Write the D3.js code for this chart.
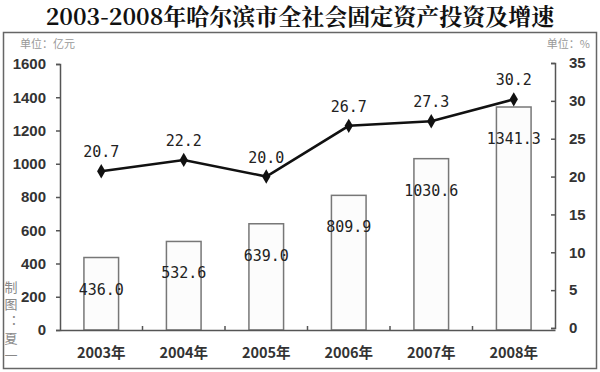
<!DOCTYPE html>
<html><head><meta charset="utf-8">
<script src="https://cdn.jsdelivr.net/npm/d3@7"></script>
<style>body{margin:0;background:#fff}svg{display:block}</style>
</head><body>
<svg id="c" width="600" height="372"></svg>
<script>
const years = ["2003年","2004年","2005年","2006年","2007年","2008年"];
const investment = [436.0, 532.6, 639.0, 809.9, 1030.6, 1341.3];
const growth = [20.7, 22.2, 20.0, 26.7, 27.3, 30.2];
const leftTicks = [0,200,400,600,800,1000,1200,1400,1600];
const rightTicks = [0,5,10,15,20,25,30,35];
const title = "2003-2008年哈尔滨市全社会固定资产投资及增速";

const svg = d3.select("#c");
const L = 60, R = 555, T = 64, B = 330;
const x = d3.scaleBand().domain(years).range([L, R]).paddingInner(0.58).paddingOuter(0.29);
const xs = d3.scaleBand().domain(years).range([L, R]);
const yL = d3.scaleLinear().domain([0,1600]).range([B, T]);
const yR = d3.scaleLinear().domain([0,35]).range([B-2, T-1]);

// frame
svg.append("rect").attr("x",3.5).attr("y",32.5).attr("width",593).attr("height",336)
  .attr("fill","none").attr("stroke","#666").attr("stroke-width",1.5);

svg.append("text").attr("x",300).attr("y",25).attr("text-anchor","middle")
  .attr("font-family","'Noto Serif CJK SC','Noto Sans CJK SC',serif").attr("font-weight","bold")
  .attr("font-size",23).attr("fill","#111").text(title);

svg.append("text").attr("x",20).attr("y",48).attr("font-family","'Noto Sans CJK SC',sans-serif")
  .attr("font-size",11).attr("fill","#999").text("单位：亿元");
svg.append("text").attr("x",590).attr("y",48).attr("text-anchor","end").attr("font-family","'Noto Sans CJK SC',sans-serif")
  .attr("font-size",11).attr("fill","#999").text("单位：%");

// vertical credit
svg.append("text").attr("x",11).attr("y",281)
  .attr("style","writing-mode: vertical-rl; letter-spacing: 4px")
  .attr("font-family","'Noto Sans CJK SC',sans-serif").attr("font-size",13).attr("fill","#888").text("制图：夏一");

// bars
svg.selectAll("rect.bar").data(investment).enter().append("rect").attr("class","bar")
  .attr("x",(d,i)=>x(years[i])).attr("width",x.bandwidth())
  .attr("y",d=>yL(d)).attr("height",d=>B-yL(d))
  .attr("fill","#fcfcfc").attr("stroke","#777").attr("stroke-width",1.5);

svg.selectAll("text.bl").data(investment).enter().append("text").attr("class","bl")
  .attr("x",(d,i)=>x(years[i])+x.bandwidth()/2).attr("y",d=>yL(d)+37)
  .attr("text-anchor","middle").attr("font-family","'DejaVu Sans Mono',monospace")
  .attr("font-size",15).attr("fill","#222").text(d=>d.toFixed(1));

// axes
const axL = svg.append("g").attr("transform",`translate(${L},0)`)
  .call(d3.axisLeft(yL).tickValues(leftTicks).tickFormat(d3.format("d")).tickSize(4).tickPadding(10));
const axR = svg.append("g").attr("transform",`translate(${R},0)`)
  .call(d3.axisRight(yR).tickValues(rightTicks).tickSize(-4).tickPadding(14));
const axB = svg.append("g").attr("transform",`translate(0,${B})`)
  .call(d3.axisBottom(xs).tickSize(0).tickPadding(18));
[axL,axR].forEach(g=>{
  g.select(".domain").attr("stroke","#555").attr("stroke-width",1.5);
  g.selectAll(".tick line").attr("stroke","#555").attr("stroke-width",1.5);
  g.selectAll("text").attr("font-family","'Liberation Sans',Arial,sans-serif").attr("font-weight","bold")
    .attr("font-size",15).attr("fill","#333");
});
axB.select(".domain").attr("stroke","#555").attr("stroke-width",1.5);
axB.selectAll("text").attr("font-family","'Noto Sans CJK SC',sans-serif").attr("font-weight","bold")
  .attr("font-size",14.5).attr("fill","#333");
// separators between categories
svg.append("g").selectAll("line").data(years.slice(1)).enter().append("line")
  .attr("x1",d=>xs(d)).attr("x2",d=>xs(d)).attr("y1",B).attr("y2",B-4)
  .attr("stroke","#555").attr("stroke-width",1.5);

// line
const cx = i => xs(years[i]) + xs.bandwidth()/2;
const line = d3.line().x((d,i)=>cx(i)).y(d=>yR(d));
svg.append("path").datum(growth).attr("d",line).attr("fill","none").attr("stroke","#111").attr("stroke-width",2.5);
svg.selectAll("path.mk").data(growth).enter().append("path").attr("class","mk")
  .attr("transform",(d,i)=>`translate(${cx(i)},${yR(d)})`)
  .attr("d",d3.symbol().type(d3.symbolDiamond).size(60)).attr("fill","#111");
svg.selectAll("text.gl").data(growth).enter().append("text").attr("class","gl")
  .attr("x",(d,i)=>cx(i)).attr("y",d=>yR(d)-14).attr("text-anchor","middle")
  .attr("font-family","'DejaVu Sans Mono',monospace").attr("font-size",15).attr("fill","#222")
  .text(d=>d.toFixed(1));
</script>
</body></html>
